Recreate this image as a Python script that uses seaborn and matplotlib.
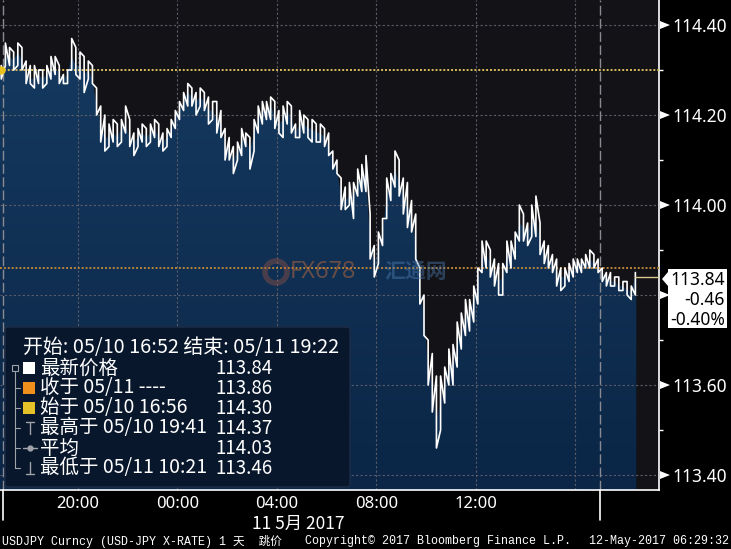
import numpy as np
import pandas as pd
import matplotlib
matplotlib.use("Agg")
import matplotlib.pyplot as plt
import matplotlib.dates as mdates
import matplotlib.transforms as mtransforms
from matplotlib.patches import Polygon, FancyBboxPatch, Circle
from matplotlib.lines import Line2D
from matplotlib.colors import LinearSegmentedColormap
import seaborn as sns

# ---------------- data (10-minute tick ranges, USDJPY) ----------------
high = [114.31, 114.36, 114.35, 114.34, 114.36, 114.35, 114.32, 114.31, 114.31, 114.30,
        114.30, 114.31, 114.33, 114.33, 114.31, 114.29, 114.30, 114.37, 114.35, 114.34,
        114.33, 114.32, 114.31, 114.26, 114.22, 114.20, 114.18, 114.19, 114.18, 114.19,
        114.22, 114.19, 114.16, 114.17, 114.18, 114.17, 114.18, 114.19, 114.18, 114.16,
        114.17, 114.19, 114.21, 114.23, 114.25, 114.27, 114.26, 114.25, 114.26, 114.25,
        114.24, 114.23, 114.23, 114.21, 114.17, 114.15, 114.13, 114.14, 114.17, 114.16,
        114.15, 114.19, 114.22, 114.23, 114.23, 114.24, 114.23, 114.21, 114.22, 114.23,
        114.22, 114.18, 114.21, 114.20, 114.19, 114.19, 114.18, 114.18, 114.17, 114.16,
        114.12, 114.10, 114.06, 114.04, 114.05, 114.05, 114.08, 114.09, 114.11, 113.98,
        113.91, 113.94, 113.97, 114.06, 114.07, 114.12, 114.10, 114.06, 114.05, 114.01,
        113.98, 113.86, 113.80, 113.70, 113.67, 113.62, 113.62, 113.64, 113.68, 113.69,
        113.74, 113.76, 113.79, 113.79, 113.82, 113.86, 113.92, 113.92, 113.90, 113.88,
        113.87, 113.87, 113.92, 113.92, 113.94, 114.00, 113.98, 113.96, 114.00, 114.02,
        113.96, 113.92, 113.91, 113.89, 113.88, 113.86, 113.86, 113.87, 113.88, 113.88,
        113.88, 113.89, 113.90, 113.89, 113.88, 113.86, 113.85, 113.85, 113.84, 113.84,
        113.83, 113.83, 113.82, 113.85]
low = [114.28, 114.31, 114.31, 114.30, 114.31, 114.30, 114.27, 114.27, 114.26, 114.27,
       114.26, 114.27, 114.28, 114.29, 114.27, 114.27, 114.27, 114.30, 114.29, 114.28,
       114.25, 114.28, 114.27, 114.20, 114.14, 114.12, 114.13, 114.14, 114.13, 114.14,
       114.16, 114.13, 114.11, 114.13, 114.14, 114.13, 114.14, 114.15, 114.13, 114.12,
       114.13, 114.15, 114.17, 114.19, 114.21, 114.22, 114.22, 114.20, 114.22, 114.21,
       114.18, 114.19, 114.16, 114.15, 114.10, 114.10, 114.07, 114.10, 114.11, 114.13,
       114.08, 114.12, 114.16, 114.18, 114.19, 114.19, 114.17, 114.16, 114.15, 114.18,
       114.16, 114.15, 114.15, 114.16, 114.15, 114.14, 114.14, 114.14, 114.13, 114.11,
       114.08, 114.07, 113.99, 113.99, 114.00, 113.97, 114.02, 114.03, 114.03, 113.88,
       113.84, 113.87, 113.91, 113.97, 114.01, 114.04, 114.02, 113.98, 113.95, 113.94,
       113.88, 113.78, 113.71, 113.60, 113.54, 113.46, 113.50, 113.56, 113.60, 113.60,
       113.64, 113.68, 113.71, 113.72, 113.74, 113.78, 113.85, 113.86, 113.84, 113.82,
       113.80, 113.80, 113.85, 113.86, 113.88, 113.92, 113.92, 113.91, 113.93, 113.93,
       113.89, 113.87, 113.86, 113.85, 113.82, 113.81, 113.82, 113.83, 113.84, 113.85,
       113.85, 113.86, 113.86, 113.86, 113.85, 113.83, 113.82, 113.82, 113.82, 113.81,
       113.81, 113.80, 113.79, 113.80]
close = [114.30, 114.33, 114.33, 114.32, 114.34, 114.32, 114.29, 114.28, 114.28, 114.29,
         114.28, 114.29, 114.30, 114.31, 114.29, 114.28, 114.29, 114.33, 114.31, 114.31,
         114.29, 114.30, 114.28, 114.22, 114.18, 114.15, 114.15, 114.16, 114.15, 114.17,
         114.18, 114.15, 114.14, 114.15, 114.16, 114.15, 114.16, 114.17, 114.15, 114.14,
         114.15, 114.17, 114.20, 114.21, 114.23, 114.25, 114.24, 114.23, 114.24, 114.23,
         114.21, 114.21, 114.19, 114.18, 114.13, 114.12, 114.10, 114.12, 114.14, 114.15,
         114.12, 114.16, 114.19, 114.21, 114.21, 114.22, 114.20, 114.18, 114.19, 114.21,
         114.19, 114.16, 114.18, 114.18, 114.17, 114.17, 114.16, 114.16, 114.15, 114.13,
         114.10, 114.08, 114.02, 114.01, 114.02, 114.02, 114.05, 114.06, 114.07, 113.92,
         113.87, 113.90, 113.94, 114.02, 114.04, 114.08, 114.05, 114.02, 114.00, 113.97,
         113.92, 113.82, 113.75, 113.64, 113.60, 113.52, 113.56, 113.60, 113.64, 113.65,
         113.69, 113.72, 113.75, 113.76, 113.79, 113.82, 113.88, 113.89, 113.87, 113.85,
         113.83, 113.84, 113.89, 113.89, 113.91, 113.96, 113.95, 113.94, 113.96, 113.97,
         113.92, 113.89, 113.88, 113.87, 113.85, 113.84, 113.84, 113.85, 113.86, 113.87,
         113.87, 113.87, 113.88, 113.87, 113.86, 113.85, 113.84, 113.83, 113.83, 113.82,
         113.82, 113.81, 113.81, 113.84]
first_bar_time = "2017-05-10 16:55"
bar_freq = "10min"
range_start = "2017-05-10 16:52"
range_end = "2017-05-11 19:22"

y_ticks = [113.40, 113.60, 113.80, 114.00, 114.20, 114.40]
y_tick_labels = ["113.40", "113.60", "", "114.00", "114.20", "114.40"]
y_minor = [113.50, 113.70, 113.90, 114.10, 114.30]
x_tick_times = ["2017-05-10 18:00", "2017-05-10 20:00", "2017-05-10 22:00", "2017-05-11 00:00",
                "2017-05-11 02:00", "2017-05-11 04:00", "2017-05-11 06:00", "2017-05-11 08:00",
                "2017-05-11 10:00", "2017-05-11 12:00", "2017-05-11 14:00", "2017-05-11 16:00"]
x_tick_labels = ["", "20:00", "", "00:00", "", "04:00", "", "08:00", "", "12:00", "", ""]
grid_times = ["2017-05-10 20:00", "2017-05-11 00:00", "2017-05-11 04:00",
              "2017-05-11 08:00", "2017-05-11 12:00", "2017-05-11 16:00"]
session_times = ["2017-05-10 17:00", "2017-05-11 17:00"]
date_label = "11 5月 2017"

open_price = 114.30
prev_close = 113.86
last_price = 113.84
last_box = ["113.84", "-0.46", "-0.40%"]

legend_title = "开始: 05/10 16:52 结束: 05/11 19:22"
legend_names = ["最新价格", "收于 05/11 ----", "始于 05/10 16:56", "最高于 05/10 19:41", "平均", "最低于 05/11 10:21"]
legend_values = ["113.84", "113.86", "114.30", "114.37", "114.03", "113.46"]
footer_left = "USDJPY Curncy (USD-JPY X-RATE) 1 天  跳价"
footer_mid = "Copyright© 2017 Bloomberg Finance L.P."
footer_right = "12-May-2017 06:29:32"

# ---------------- figure ----------------
sns.set_theme(style="dark")
plt.rcParams["font.family"] = ["Noto Sans", "Noto Sans CJK SC", "DejaVu Sans"]
CJK = ["Noto Sans CJK SC", "DejaVu Sans"]

W, H = 731, 549
fig = plt.figure(figsize=(W / 100, H / 100), dpi=100, facecolor="black")
T = mtransforms.Affine2D().scale(1 / W, -1 / H).translate(0, 1) + fig.transFigure
ax = fig.add_axes([0, 59 / H, 659 / W, 490 / H])
ax.set_facecolor("#131216")

times = pd.date_range(first_bar_time, periods=len(close), freq=bar_freq)
xn = mdates.date2num(times.to_pydatetime())
xmin = mdates.date2num(pd.Timestamp(range_start).to_pydatetime())
xmax = mdates.date2num(pd.Timestamp(range_end).to_pydatetime())
ylo, yhi = 113.3667, 114.4556

# gradient area under closes
cmap = LinearSegmentedColormap.from_list("g", ["#0b2646", "#163b62"])
grad = np.linspace(1, 0, 256).reshape(-1, 1)
im = ax.imshow(grad, extent=[xmin, xmax, ylo, yhi], aspect="auto", cmap=cmap, zorder=1)
poly = ax.fill_between(np.r_[xmin, xn, xn[-1] + 0.0015], np.r_[close[0], close, close[-1]], ylo,
                       facecolor="none", edgecolor="none")
im.set_clip_path(poly.get_paths()[0], transform=ax.transData)

# grid
for v in y_ticks:
    ax.axhline(v, color="#5c5c68", lw=0.8, ls=(0, (2, 2)), zorder=2)
for t in grid_times:
    ax.axvline(mdates.date2num(pd.Timestamp(t).to_pydatetime()), color="#5c5c68", lw=0.8,
               ls=(0, (2, 2)), zorder=2)
for t in session_times:
    ax.axvline(mdates.date2num(pd.Timestamp(t).to_pydatetime()), color="#8a8a92", lw=1.0,
               ls=(0, (7, 2.5)), zorder=2)

# reference levels
ax.axhline(open_price, color="#dcbc5c", lw=1.4, ls=(0, (1, 1)), zorder=3)
ax.axhline(prev_close, color="#b9843a", lw=1.4, ls=(0, (1, 1)), zorder=3)

# tick path: each bar's range traversed in the direction of the move
xs, ys = [], []
for i in range(len(close)):
    xs += [xn[i], xn[i]]
    rising = i > 0 and close[i] >= close[i - 1]
    ys += [low[i], high[i]] if rising else [high[i], low[i]]
sns.lineplot(x=xs, y=ys, sort=False, estimator=None, color="white", lw=1.2, ax=ax, zorder=4)
ax.plot([xn[-1], xmax], [last_price, last_price], color="#d8c890", lw=1.0, zorder=4)
ax.plot([xn[0]], [open_price], "o", color="#e8c020", ms=5, zorder=5, clip_on=False)

ax.set_xlim(xmin, xmax)
ax.set_ylim(ylo, yhi)
ax.grid(False)
for s in ["left", "top"]:
    ax.spines[s].set_visible(False)
for s in ["right", "bottom"]:
    ax.spines[s].set_color("white")
    ax.spines[s].set_linewidth(1.2)

ax.yaxis.tick_right()
ax.set_yticks(y_ticks)
ax.set_yticklabels(y_tick_labels)
ax.set_yticks(y_minor, minor=True)
ax.tick_params(axis="y", which="major", length=0, pad=9.5, labelsize=12.5, labelcolor="white")
ax.tick_params(axis="y", which="minor", length=3, width=1, color="white", direction="out")
ax.set_xticks([mdates.date2num(pd.Timestamp(t).to_pydatetime()) for t in x_tick_times])
ax.set_xticklabels(x_tick_labels)
ax.tick_params(axis="x", length=3, width=1, color="white", direction="out", pad=1.5,
               labelsize=12, labelcolor="white")
ax.set_xlabel("")
ax.set_ylabel("")

# right-axis triangles
yt = ax.get_yaxis_transform()
for v in y_ticks:
    h = 4 / 450
    ax.add_patch(Polygon([(1.0015, v + h), (1.0015, v - h), (1 + 11 / 659, v)], closed=True,
                         transform=yt, facecolor="white", edgecolor="none", clip_on=False, zorder=6))

# session separators below the axis
for t in session_times:
    xv = mdates.date2num(pd.Timestamp(t).to_pydatetime())
    px = (xv - xmin) / (xmax - xmin) * 659
    fig.add_artist(Line2D([px, px], [490, 520], transform=T, color="white", lw=1.2))

fig.text(298, 524, date_label, transform=T, color="white", fontsize=12.5, family=CJK,
         ha="center", va="center")

# last-price box
fig.add_artist(Polygon([(668, 269), (727, 269), (727, 328), (668, 328), (668, 286), (662, 279),
                        (668, 272)], closed=True, transform=T, facecolor="white",
                       edgecolor="none", zorder=7))
for k, s in enumerate(last_box):
    fig.text(725, 280 + k * 20, s, transform=T, color="black", fontsize=12.5,
             ha="right", va="center", zorder=8)

# watermark
fig.add_artist(Circle((276, 272), 11, transform=T, facecolor="none", edgecolor="#b05a40",
                      lw=4, alpha=0.35, zorder=3))
fig.text(290, 272, "FX678", transform=T, color="#d0703a", fontsize=17, fontweight="bold",
         ha="left", va="center", alpha=0.45, zorder=3)
fig.text(384, 272, "汇通网", transform=T, color="#4a7cb0", fontsize=15, fontweight="bold",
         family=CJK, ha="left", va="center", alpha=0.45, zorder=3)

# legend panel
fig.add_artist(FancyBboxPatch((5, 327), 345, 160, boxstyle="round,pad=0,rounding_size=3",
                              transform=T, facecolor="#08172c", edgecolor="#1d2d48", lw=1.0,
                              zorder=9))
fig.text(23, 348, legend_title, transform=T, color="white", fontsize=14.3, family=CJK,
         ha="left", va="center", zorder=10)
row_y = [368, 388, 408, 428, 448, 468]
for yv, nm, val in zip(row_y, legend_names, legend_values):
    fig.text(40, yv, nm, transform=T, color="white", fontsize=14, family=CJK,
             ha="left", va="center", zorder=10)
    fig.text(215, yv, val, transform=T, color="white", fontsize=13.5, family=CJK,
             ha="left", va="center", zorder=10)
tree = "#a0a4aa"
fig.add_artist(Line2D([15, 15], [372, 468], transform=T, color=tree, lw=0.8, zorder=10))
for yv in row_y[1:]:
    fig.add_artist(Line2D([15, 20], [yv, yv], transform=T, color=tree, lw=0.8, zorder=10))
fig.add_artist(FancyBboxPatch((12, 365), 6, 6, boxstyle="square,pad=0", transform=T,
                              facecolor="none", edgecolor=tree, lw=0.8, zorder=10))
for yv, c in zip(row_y[:3], ["white", "#f0901c", "#e6c22a"]):
    fig.add_artist(FancyBboxPatch((23, yv - 6), 12, 12, boxstyle="square,pad=0", transform=T,
                                  facecolor=c, edgecolor="none", zorder=10))
# high marker (T)
fig.add_artist(Line2D([26, 34], [422, 422], transform=T, color=tree, lw=1, zorder=10))
fig.add_artist(Line2D([30, 30], [422, 434], transform=T, color=tree, lw=1, zorder=10))
# average marker
fig.add_artist(Line2D([23, 37], [448, 448], transform=T, color=tree, lw=1, zorder=10))
fig.add_artist(Line2D([30], [448], transform=T, color=tree, marker="o", ms=3.5, lw=0, zorder=10))
# low marker (inverted T)
fig.add_artist(Line2D([26, 34], [474, 474], transform=T, color=tree, lw=1, zorder=10))
fig.add_artist(Line2D([30, 30], [462, 474], transform=T, color=tree, lw=1, zorder=10))

# footer
MONO = ["Liberation Mono", "Noto Sans CJK SC"]
fig.text(2, 541, footer_left, transform=T, color="white", fontsize=8.4, family=MONO,
         ha="left", va="center")
fig.text(305, 541, footer_mid, transform=T, color="white", fontsize=8.4, family=MONO,
         ha="left", va="center")
fig.text(729, 541, footer_right, transform=T, color="white", fontsize=8.4, family=MONO,
         ha="right", va="center")

fig.savefig("out.png", dpi=100, facecolor="black")
